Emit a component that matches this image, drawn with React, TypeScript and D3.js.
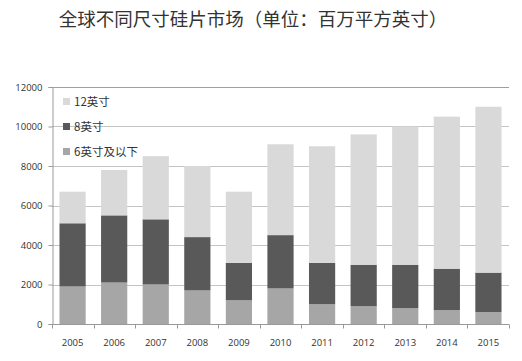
import { useEffect, useRef } from 'react';
import * as d3 from 'd3';

const years = ['2005', '2006', '2007', '2008', '2009', '2010', '2011', '2012', '2013', '2014', '2015'];
// stacked from the bottom up
const small6 = [1900, 2100, 2000, 1700, 1200, 1800, 1000, 900, 800, 700, 600];
const mid8 = [3200, 3400, 3300, 2700, 1900, 2700, 2100, 2100, 2200, 2100, 2000];
const large12 = [1600, 2300, 3200, 3600, 3600, 4600, 5900, 6600, 7000, 7700, 8400];
const seriesNames = ['6英寸及以下', '8英寸', '12英寸'];
const yTicks = [0, 2000, 4000, 6000, 8000, 10000, 12000];

export default function App() {
    const ref = useRef<SVGSVGElement | null>(null);

    useEffect(() => {
        const width = 522;
        const height = 361;
        const left = 52;
        const right = 509;
        const top = 87;
        const bottom = 324;

        const svg = d3.select(ref.current);
        svg.selectAll('*').remove();

        const color = d3.scaleOrdinal<string>()
            .domain(seriesNames)
            .range(['#a6a6a6', '#595959', '#d9d9d9']);

        const x = d3.scaleBand<string>().domain(years).range([left, right]).paddingInner(0.37).paddingOuter(0.18);
        const y = d3.scaleLinear().domain([0, 12000]).range([bottom, top]);

        const rows = years.map((yr, i) => ({
            year: yr,
            [seriesNames[0]]: small6[i],
            [seriesNames[1]]: mid8[i],
            [seriesNames[2]]: large12[i],
        }));
        const stacked = d3.stack<any>().keys(seriesNames)(rows);

        svg.attr('width', width).attr('height', height);
        svg.append('rect').attr('width', width).attr('height', height).attr('fill', '#fff');

        // title
        svg.append('text')
            .attr('x', 253)
            .attr('y', 26)
            .attr('text-anchor', 'middle')
            .attr('font-family', '"Noto Sans CJK SC", sans-serif')
            .attr('font-size', '18.5px')
            .attr('fill', '#333')
            .text('全球不同尺寸硅片市场（单位：百万平方英寸）');

        // gridlines
        svg.append('g')
            .selectAll('line')
            .data(yTicks.slice(1))
            .enter()
            .append('line')
            .attr('x1', left)
            .attr('x2', right)
            .attr('y1', (d) => Math.round(y(d)) + 0.5)
            .attr('y2', (d) => Math.round(y(d)) + 0.5)
            .attr('stroke', (d) => (d === 12000 ? '#a0a0a0' : '#c4c4c4'))
            .attr('stroke-width', 1);

        // bars
        svg.append('g')
            .selectAll('g')
            .data(stacked)
            .enter()
            .append('g')
            .attr('fill', (d) => color(d.key))
            .selectAll('rect')
            .data((d) => d)
            .enter()
            .append('rect')
            .attr('x', (d: any) => x(d.data.year)!)
            .attr('width', x.bandwidth())
            .attr('y', (d) => y(d[1]))
            .attr('height', (d) => y(d[0]) - y(d[1]));

        // y axis
        const yAxis = svg.append('g')
            .attr('transform', `translate(${left + 0.5},0)`)
            .call(d3.axisLeft(y).tickValues(yTicks).tickSize(4).tickPadding(6).tickFormat(d3.format('d')));
        yAxis.select('.domain').attr('stroke', '#999');
        yAxis.selectAll('.tick line').attr('stroke', '#999');
        yAxis.selectAll('text')
            .attr('font-family', '"Open Sans", sans-serif')
            .attr('font-size', '9.5px')
            .attr('fill', '#333');

        // x axis with separators between categories
        const xg = svg.append('g').attr('transform', `translate(0,${Math.round(bottom) + 0.5})`);
        xg.append('line').attr('x1', left).attr('x2', right).attr('stroke', '#999');
        xg.selectAll('.sep')
            .data(d3.range(years.length + 1))
            .enter()
            .append('line')
            .attr('x1', (i) => Math.round(left + (right - left) * i / years.length) + 0.5)
            .attr('x2', (i) => Math.round(left + (right - left) * i / years.length) + 0.5)
            .attr('y1', 0)
            .attr('y2', 4)
            .attr('stroke', '#999');
        xg.selectAll('.lab')
            .data(years)
            .enter()
            .append('text')
            .attr('x', (d) => x(d)! + x.bandwidth() / 2)
            .attr('y', 21)
            .attr('text-anchor', 'middle')
            .attr('font-family', '"Open Sans", sans-serif')
            .attr('font-size', '9.5px')
            .attr('fill', '#333')
            .text((d) => d);

        // legend
        const legendOrder = [seriesNames[2], seriesNames[1], seriesNames[0]];
        const legend = svg.append('g').attr('transform', `translate(63, 98)`);
        const items = legend.selectAll('g')
            .data(legendOrder)
            .enter()
            .append('g')
            .attr('transform', (_, i) => `translate(0, ${i * 25})`);
        items.append('rect')
            .attr('width', 7)
            .attr('height', 7)
            .attr('fill', (d) => color(d));
        items.append('text')
            .attr('x', 11)
            .attr('y', 7.5)
            .attr('font-family', '"Noto Sans CJK SC", sans-serif')
            .attr('font-size', '11.5px')
            .attr('fill', '#333')
            .text((d) => d);
    }, []);

    return <svg ref={ref} style={{ position: 'absolute', left: 0, top: 0 }} />;
}
